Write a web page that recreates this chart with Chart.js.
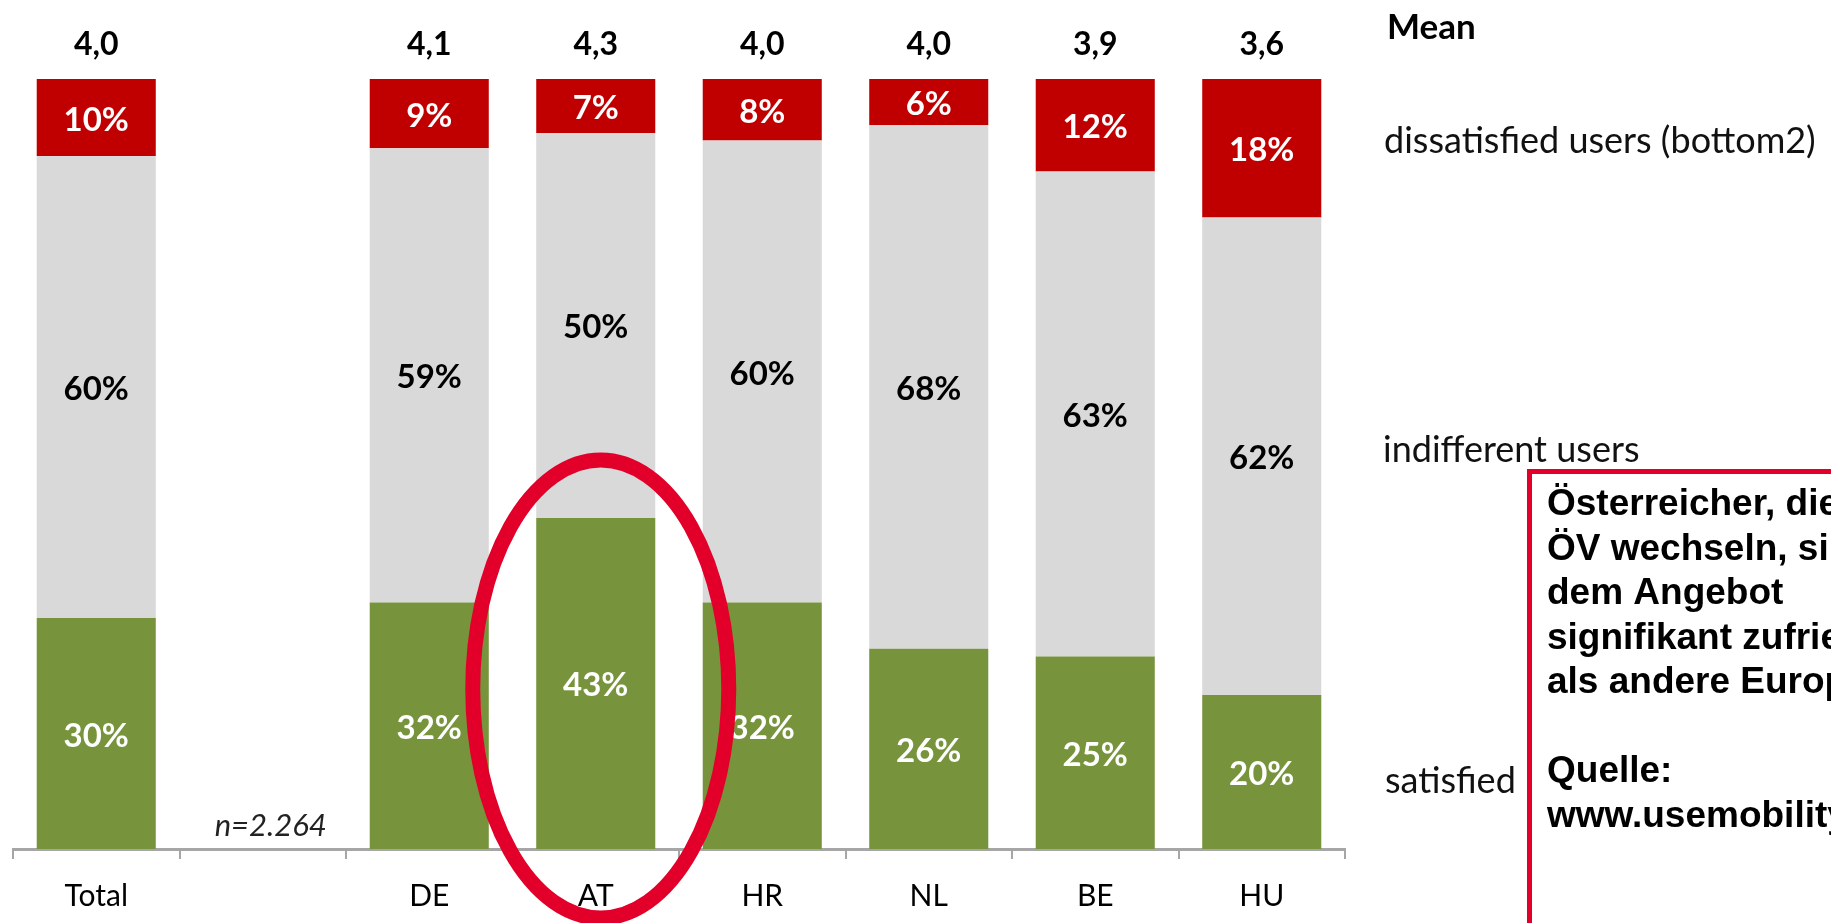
<!DOCTYPE html>
<html>
<head>
<meta charset="utf-8">
<script src="https://cdn.jsdelivr.net/npm/chart.js@4.4.0/dist/chart.umd.min.js"></script>
<style>
  html, body { margin: 0; padding: 0; background: #fff; }
  #chartArea { width: 1831px; height: 923px; }
</style>
</head>
<body>
<div id="chartArea"><canvas id="myChart" width="1831" height="923"></canvas></div>
<script>
const categories = ['Total', '', 'DE', 'AT', 'HR', 'NL', 'BE', 'HU'];
const satisfied = [30, null, 32, 43, 32, 26, 25, 20];
const indifferent = [60, null, 59, 50, 60, 68, 63, 62];
const dissatisfied = [10, null, 9, 7, 8, 6, 12, 18];
const means = ['4,0', '', '4,1', '4,3', '4,0', '4,0', '3,9', '3,6'];
const meanTitle = 'Mean';
const sampleNote = 'n=2.264';
const rowLabels = ['dissatisfied users (bottom2)', 'indifferent users', 'satisfied'];
const noteLines = [
  'Österreicher, die auf den',
  'ÖV wechseln, sind mit',
  'dem Angebot',
  'signifikant zufriedener',
  'als andere Europäer',
  '',
  'Quelle:',
  'www.usemobility.eu'
];

const markRed = '#e2002b';

// percent labels, means, side labels
const labelPlugin = {
  id: 'labelPlugin',
  afterDatasetsDraw(chart) {
    const ctx = chart.ctx;
    const x = chart.scales.x;
    ctx.save();
    ctx.textAlign = 'center';
    ctx.textBaseline = 'alphabetic';
    chart.data.datasets.forEach((ds, i) => {
      const meta = chart.getDatasetMeta(i);
      meta.data.forEach((bar, j) => {
        const v = ds.data[j];
        if (v == null) return;
        const p = bar.getProps(['x', 'y', 'base'], true);
        ctx.fillStyle = ds.labelColor;
        ctx.font = 'bold 33px Lato';
        ctx.fillText(v + '%', p.x, (p.y + p.base) / 2 + 13);
      });
    });

    ctx.fillStyle = '#000';
    ctx.font = 'bold 32px Lato';
    means.forEach((m, j) => {
      if (!m) return;
      ctx.fillText(m, x.getPixelForValue(j), 55);
    });

    ctx.font = 'italic 31px Lato';
    ctx.fillStyle = '#222';
    ctx.fillText(sampleNote, x.getPixelForValue(1) + 8, 836);

    ctx.textAlign = 'left';
    ctx.fillStyle = '#000';
    ctx.font = 'bold 35px Lato';
    ctx.fillText(meanTitle, 1387, 39);
    ctx.font = '36px Lato';
    ctx.fillStyle = '#111';
    ctx.fillText(rowLabels[0], 1384, 153);
    ctx.fillText(rowLabels[1], 1383, 462);
    ctx.fillText(rowLabels[2], 1385, 793);
    ctx.restore();
  },
  afterDraw(chart) {
    const ctx = chart.ctx;
    const x = chart.scales.x;
    ctx.save();
    // highlight around AT
    ctx.strokeStyle = markRed;
    ctx.lineWidth = 15;
    ctx.beginPath();
    ctx.ellipse(x.getPixelForValue(3) + 5, 689, 128, 229, 0, 0, Math.PI * 2);
    ctx.stroke();

    // note box
    ctx.lineWidth = 5;
    ctx.strokeRect(1529.5, 471.5, 400, 600);
    ctx.fillStyle = '#000';
    ctx.font = 'bold 37px "Liberation Sans"';
    ctx.textAlign = 'left';
    noteLines.forEach((t, i) => {
      ctx.fillText(t, 1547, 515 + i * 44.5);
    });
    ctx.restore();
  }
};

const myChart = new Chart('myChart', {
  type: 'bar',
  data: {
    labels: categories,
    datasets: [
      { label: 'satisfied', data: satisfied, backgroundColor: '#77933c', labelColor: '#fff' },
      { label: 'indifferent', data: indifferent, backgroundColor: '#d9d9d9', labelColor: '#000' },
      { label: 'dissatisfied', data: dissatisfied, backgroundColor: '#c00000', labelColor: '#fff' }
    ]
  },
  options: {
    responsive: false,
    animation: false,
    barPercentage: 0.715,
    categoryPercentage: 1,
    layout: { padding: { top: 79, left: 13, right: 486, bottom: 0 } },
    plugins: {
      legend: { display: false },
      tooltip: { enabled: false }
    },
    scales: {
      x: {
        stacked: true,
        grid: { drawOnChartArea: false, drawTicks: true, tickLength: 10, color: '#a6a6a6', lineWidth: 2 },
        border: { display: true, color: '#a6a6a6', width: 3 },
        ticks: { color: '#000', font: { family: 'Lato', size: 30 }, padding: 19 },
        afterFit(scale) { scale.height = 74; }
      },
      y: { stacked: true, display: false, min: 0, max: 100 }
    }
  },
  plugins: [labelPlugin]
});
</script>
</body>
</html>
